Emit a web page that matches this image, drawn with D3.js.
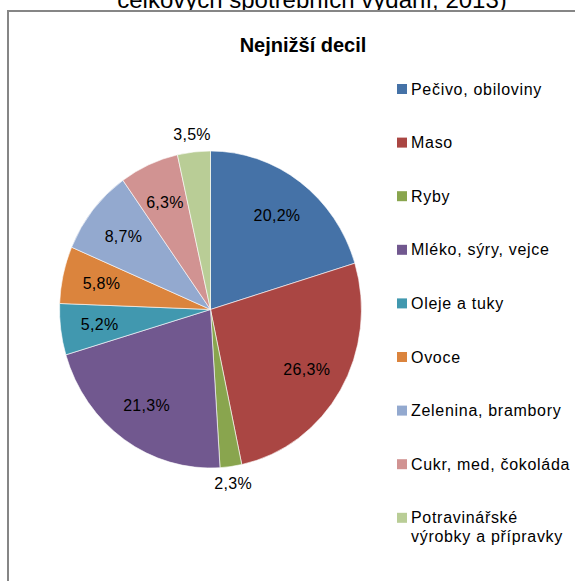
<!DOCTYPE html>
<html>
<head>
<meta charset="utf-8">
<script src="https://cdn.jsdelivr.net/npm/d3@7"></script>
<style>
html,body{margin:0;padding:0;background:#fff;}
svg{display:block;}
text{font-family:"Liberation Sans",Arial,sans-serif;}
</style>
</head>
<body>
<svg id="chart" width="575" height="581"></svg>
<script>
const categories = ["Pečivo, obiloviny","Maso","Ryby","Mléko, sýry, vejce","Oleje a tuky","Ovoce","Zelenina, brambory","Cukr, med, čokoláda","Potravinářské výrobky a přípravky"];
const values = [20.2, 26.3, 2.3, 21.3, 5.2, 5.8, 8.7, 6.3, 3.5];
const colors = ["#4572A7","#AA4643","#89A54E","#71588F","#4198AF","#DB843D","#93A9CF","#D19392","#B9CD96"];
const chartTitle = "Nejnižší decil";
const pageTitle = "celkových spotřebních vydání, 2013)";

const svg = d3.select("#chart");

// page heading (cut off at top, as in the source)
svg.append("text").attr("x", 312).attr("y", 8).attr("text-anchor","middle")
  .attr("font-size", 24).attr("fill","#000").text(pageTitle);

// chart frame
svg.append("rect").attr("x", 8).attr("y", 11).attr("width", 620).attr("height", 620)
  .attr("fill","#fff").attr("stroke","#868686").attr("stroke-width", 2);

svg.append("text").attr("x", 303).attr("y", 52).attr("text-anchor","middle")
  .attr("font-size", 20).attr("font-weight","bold").attr("fill","#000").text(chartTitle);

const cx = 210.5, cy = 309.5, rx = 151, ry = 158.5;
const pie = d3.pie().sort(null).value(d => d.v);
const data = values.map((v,i)=>({v, name: categories[i], color: colors[i]}));
const arcs = pie(data);
const arc = d3.arc().innerRadius(0).outerRadius(1);

const g = svg.append("g").attr("transform", `translate(${cx},${cy}) scale(${rx},${ry})`);
g.selectAll("path").data(arcs).enter().append("path")
  .attr("d", arc).attr("fill", d => d.data.color)
  .attr("stroke","#fff").attr("stroke-width", 0.6).attr("vector-effect","non-scaling-stroke");

const fmt = v => d3.format(".1f")(v).replace(".", ",") + "%";
svg.append("g").selectAll("text").data(arcs).enter().append("text")
  .attr("x", d => { const a=(d.startAngle+d.endAngle)/2; const f = d.data.v < 5 ? 1.11 : 0.74; return cx + Math.sin(a)*rx*f; })
  .attr("y", d => { const a=(d.startAngle+d.endAngle)/2; const f = d.data.v < 5 ? 1.11 : 0.74; return cy - Math.cos(a)*ry*f; })
  .attr("dy","0.35em").attr("text-anchor","middle").attr("font-size", 16).attr("letter-spacing", 0.3).attr("fill","#000")
  .text(d => fmt(d.data.v));

// legend
const legend = svg.append("g");
const y0 = 89, step = 53.6;
categories.forEach((c,i) => {
  const y = y0 + i*step;
  legend.append("rect").attr("x", 397).attr("y", y-5).attr("width", 10).attr("height", 10).attr("fill", colors[i]);
  const t = (s, yy) => legend.append("text").attr("x", 411).attr("y", yy).attr("dy","0.35em")
      .attr("font-size",16).attr("letter-spacing",0.7).text(s);
  if (i === 8) {
    t("Potravinářské", y);
    t("výrobky a přípravky", y+19);
  } else {
    t(c, y);
  }
});
</script>
</body>
</html>
